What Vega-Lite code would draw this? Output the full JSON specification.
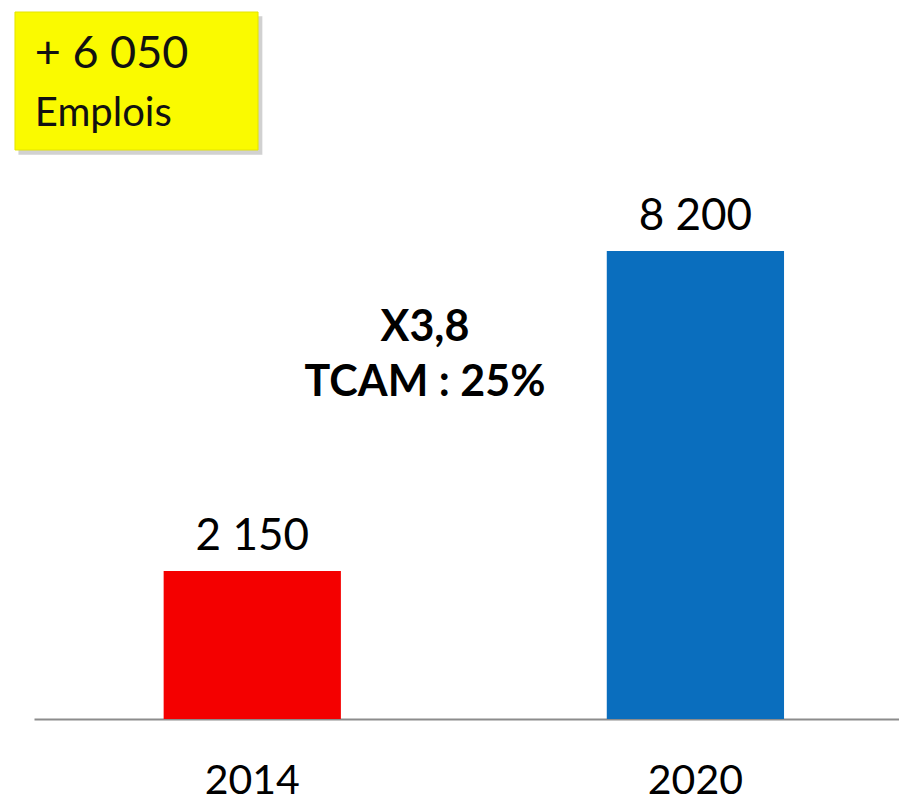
{
  "$schema": "https://vega.github.io/schema/vega-lite/v6.json",
  "autosize": {"type": "none"},
  "width": 865,
  "height": 719,
  "padding": {"left": 34, "top": 0, "right": 0, "bottom": 85},
  "background": "white",
  "config": {"view": {"stroke": null}, "font": "Lato"},
  "datasets": {
    "bars": [
      {"year": "2014", "value": 2150, "label": "2 150", "base": -648},
      {"year": "2020", "value": 8200, "label": "8 200", "base": -648}
    ],
    "box": [
      {"x0": -2.2, "x1": 25.9, "y0": 10110, "y1": 12719}
    ],
    "shadow": [
      {"x0": -1.8, "x1": 26.4, "y0": 10020, "y1": 12640}
    ],
    "boxtext": [
      {"x": 0.1, "y": 11925, "text": "+ 6 050", "size": 45},
      {"x": 0.1, "y": 10790, "text": "Emplois", "size": 40}
    ],
    "note": [
      {"x": 45.2, "y": 6743, "text": "X3,8"},
      {"x": 45.2, "y": 5703, "text": "TCAM : 25%"}
    ]
  },
  "resolve": {"scale": {"x": "independent", "color": "independent"}},
  "layer": [
    {
      "data": {"name": "bars"},
      "layer": [
        {
          "mark": {"type": "bar", "stroke": null},
          "encoding": {
            "x": {
              "field": "year", "type": "nominal",
              "scale": {"paddingInner": 0.6, "paddingOuter": 0.276, "align": 0.53},
              "axis": {
                "title": null, "labelAngle": 0, "ticks": false,
                "labelFontSize": 41, "labelFont": "Lato", "labelColor": "#000",
                "labelBaseline": "alphabetic", "labelPadding": 74,
                "domainColor": "#8c8c8c", "domainWidth": 2
              }
            },
            "y": {
              "field": "value", "type": "quantitative",
              "scale": {"domain": [-648, 12946], "nice": false, "zero": false},
              "axis": null
            },
            "y2": {"field": "base"},
            "color": {
              "field": "year", "type": "nominal",
              "scale": {"domain": ["2014", "2020"], "range": ["#F40000", "#0A6EBE"]},
              "legend": null
            }
          }
        },
        {
          "mark": {"type": "text", "fontSize": 44, "baseline": "alphabetic", "dy": -21, "color": "#000"},
          "encoding": {
            "x": {"field": "year", "type": "nominal"},
            "y": {"field": "value", "type": "quantitative"},
            "text": {"field": "label"}
          }
        }
      ]
    },
    {
      "data": {"name": "shadow"},
      "mark": {"type": "rect", "color": "#9a9a9a", "opacity": 0.45},
      "encoding": {
        "x": {"field": "x0", "type": "quantitative", "scale": {"domain": [0, 100], "nice": false, "zero": false}, "axis": null},
        "x2": {"field": "x1"},
        "y": {"field": "y0", "type": "quantitative"},
        "y2": {"field": "y1"}
      }
    },
    {
      "data": {"name": "box"},
      "mark": {"type": "rect", "color": "#FAFA00", "stroke": "#E4E400", "strokeWidth": 1},
      "encoding": {
        "x": {"field": "x0", "type": "quantitative", "scale": {"domain": [0, 100], "nice": false, "zero": false}, "axis": null},
        "x2": {"field": "x1"},
        "y": {"field": "y0", "type": "quantitative"},
        "y2": {"field": "y1"}
      }
    },
    {
      "data": {"name": "boxtext"},
      "mark": {"type": "text", "align": "left", "baseline": "middle", "color": "#111"},
      "encoding": {
        "x": {"field": "x", "type": "quantitative", "scale": {"domain": [0, 100], "nice": false, "zero": false}, "axis": null},
        "y": {"field": "y", "type": "quantitative"},
        "text": {"field": "text"},
        "size": {"field": "size", "type": "quantitative", "scale": null}
      }
    },
    {
      "data": {"name": "note"},
      "mark": {"type": "text", "align": "center", "baseline": "middle", "fontSize": 43, "fontWeight": "bold", "color": "#000"},
      "encoding": {
        "x": {"field": "x", "type": "quantitative", "scale": {"domain": [0, 100], "nice": false, "zero": false}, "axis": null},
        "y": {"field": "y", "type": "quantitative"},
        "text": {"field": "text"}
      }
    }
  ]
}
